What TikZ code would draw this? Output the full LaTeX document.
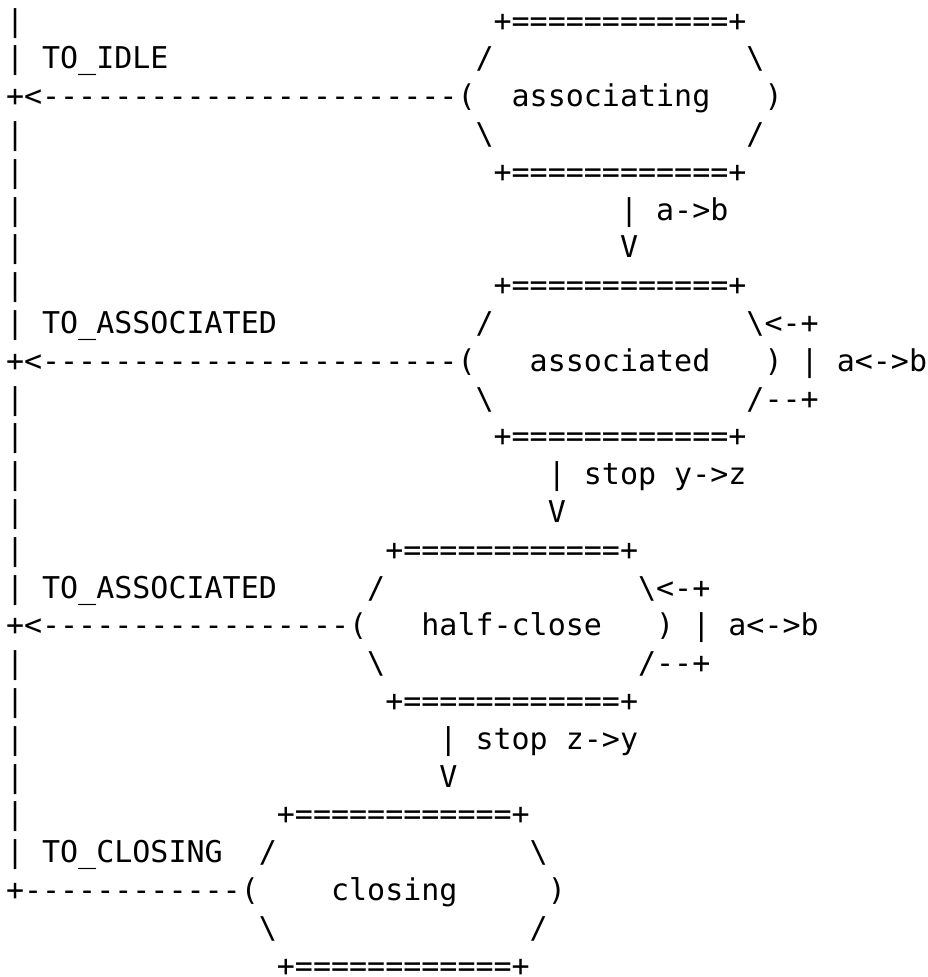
\documentclass[tikz,border=0pt]{standalone}
\usepackage{fontspec}
\setmonofont{DejaVu Sans Mono}
% character grid: column pitch and line pitch, in pt
\newcommand\cw{18.06}
\newcommand\lh{37.8}
\newcommand\bs{\textbackslash}
% \cell{name}{line}{column}{text}
\newcommand\cell[4]{\node[txt] (#1) at ({6+#3*\cw},{31+(#2-1)*\lh}) {#4};}
\begin{document}
\begin{tikzpicture}[x=1pt,y=-1pt,
  txt/.style={anchor=base west, inner sep=0pt, outer sep=0pt,
    font=\ttfamily\fontsize{30}{36}\selectfont}]
\useasboundingbox (0,0) rectangle (928,977);
\fill[white] (0,0) rectangle (928,977);

% state: associating
\cell{v1}{1}{0}{|}
\cell{sA1}{1}{27}{+============+}
\cell{v2}{2}{0}{|}
\cell{lIdle}{2}{2}{TO\_IDLE}
\cell{sA2}{2}{26}{/}
\cell{sA3}{2}{41}{\bs}
\cell{eIdle}{3}{0}{+<-----------------------(}
\cell{nA}{3}{28}{associating}
\cell{sA4}{3}{42}{)}
\cell{v4}{4}{0}{|}
\cell{sA5}{4}{26}{\bs}
\cell{sA6}{4}{41}{/}
\cell{v5}{5}{0}{|}
\cell{sA7}{5}{27}{+============+}
\cell{v6}{6}{0}{|}
\cell{tA1}{6}{34}{|}
\cell{tA2}{6}{36}{a->b}
\cell{v7}{7}{0}{|}
\cell{tA3}{7}{34}{V}

% state: associated
\cell{v8}{8}{0}{|}
\cell{sB1}{8}{27}{+============+}
\cell{v9}{9}{0}{|}
\cell{lAssoc}{9}{2}{TO\_ASSOCIATED}
\cell{sB2}{9}{26}{/}
\cell{sB3}{9}{41}{\bs<-+}
\cell{eAssoc}{10}{0}{+<-----------------------(}
\cell{nB}{10}{29}{associated}
\cell{sB4}{10}{42}{)}
\cell{lB1}{10}{44}{|}
\cell{lB2}{10}{46}{a<->b}
\cell{v11}{11}{0}{|}
\cell{sB5}{11}{26}{\bs}
\cell{sB6}{11}{41}{/--+}
\cell{v12}{12}{0}{|}
\cell{sB7}{12}{27}{+============+}
\cell{v13}{13}{0}{|}
\cell{tB1}{13}{30}{|}
\cell{tB2}{13}{32}{stop y->z}
\cell{v14}{14}{0}{|}
\cell{tB3}{14}{30}{V}

% state: half-close
\cell{v15}{15}{0}{|}
\cell{sC1}{15}{21}{+============+}
\cell{v16}{16}{0}{|}
\cell{lHalf}{16}{2}{TO\_ASSOCIATED}
\cell{sC2}{16}{20}{/}
\cell{sC3}{16}{35}{\bs<-+}
\cell{eHalf}{17}{0}{+<-----------------(}
\cell{nC}{17}{23}{half-close}
\cell{sC4}{17}{36}{)}
\cell{lC1}{17}{38}{|}
\cell{lC2}{17}{40}{a<->b}
\cell{v18}{18}{0}{|}
\cell{sC5}{18}{20}{\bs}
\cell{sC6}{18}{35}{/--+}
\cell{v19}{19}{0}{|}
\cell{sC7}{19}{21}{+============+}
\cell{v20}{20}{0}{|}
\cell{tC1}{20}{24}{|}
\cell{tC2}{20}{26}{stop z->y}
\cell{v21}{21}{0}{|}
\cell{tC3}{21}{24}{V}

% state: closing
\cell{v22}{22}{0}{|}
\cell{sD1}{22}{15}{+============+}
\cell{v23}{23}{0}{|}
\cell{lClose}{23}{2}{TO\_CLOSING}
\cell{sD2}{23}{14}{/}
\cell{sD3}{23}{29}{\bs}
\cell{eClose}{24}{0}{+------------(}
\cell{nD}{24}{18}{closing}
\cell{sD4}{24}{30}{)}
\cell{sD5}{25}{14}{\bs}
\cell{sD6}{25}{29}{/}
\cell{sD7}{26}{15}{+============+}
\end{tikzpicture}
\end{document}
